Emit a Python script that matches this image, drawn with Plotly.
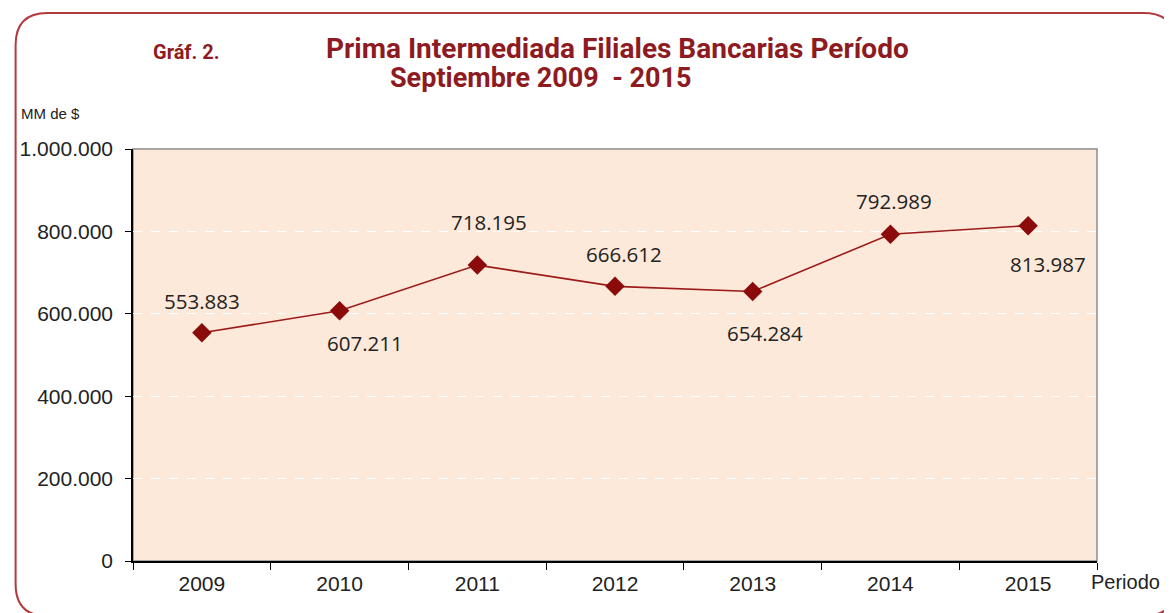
import plotly.graph_objects as go

years = ["2009", "2010", "2011", "2012", "2013", "2014", "2015"]
values = [553883, 607211, 718195, 666612, 654284, 792989, 813987]
value_labels = ["553.883", "607.211", "718.195", "666.612", "654.284", "792.989", "813.987"]
y_ticks = [0, 200000, 400000, 600000, 800000, 1000000]

# label offsets in pixels (x, y-down) relative to the point
label_offsets = [(0, -32), (25, 32), (12, -43), (9, -32), (12, 42), (4, -33), (20, 38)]

OFF = 8  # page body margin
W, H = 1172 - OFF, 613 - OFF
L, R, T, B = 128 - OFF, 1097 - OFF, 149 - OFF, 561 - OFF

RED = "#8E1B22"
LINE = "#9B1B1B"

fig = go.Figure()
fig.add_trace(go.Scatter(
    x=years, y=values, mode="lines+markers",
    line=dict(color=LINE, width=1.6),
    marker=dict(symbol="diamond", size=15, color="#8B0A0A"),
    hoverinfo="x+y", showlegend=False,
))

annotations = []
for i, (v, t, (dx, dy)) in enumerate(zip(values, value_labels, label_offsets)):
    annotations.append(dict(
        x=i, y=v, xref="x", yref="y", text=t, showarrow=False,
        xshift=dx, yshift=-dy, xanchor="center", yanchor="middle",
        font=dict(family="Open Sans", size=20.5, color="#222222"),
    ))

def px2paper(px, py):
    px -= OFF
    py -= OFF
    return ((px - L) / (R - L), (B - py) / (B - T))

# rounded border
x0, y0, x1, y1, r = 10, 13, 1176, 616, 32
pts = [
    ("M", x0 + r, y0), ("L", x1 - r, y0), ("Q", x1, y0, x1, y0 + r),
    ("L", x1, y1 - r), ("Q", x1, y1, x1 - r, y1), ("L", x0 + r, y1),
    ("Q", x0, y1, x0, y1 - r), ("L", x0, y0 + r), ("Q", x0, y0, x0 + r, y0),
]
path = ""
for p in pts:
    cmd = p[0]
    coords = p[1:]
    s = []
    for k in range(0, len(coords), 2):
        a, b = px2paper(coords[k], coords[k + 1])
        s.append(f"{a:.5f},{b:.5f}")
    path += cmd + " ".join(s) + " "
path += "Z"

shapes = [
    dict(type="path", xref="paper", yref="paper", path=path,
         line=dict(color="#B23A3F", width=2), layer="above"),
    dict(type="rect", xref="paper", yref="paper", x0=0, y0=0, x1=1, y1=1,
         line=dict(color="#8C8C8C", width=1.5), layer="below"),
]

def ann_px(px, py, text, size, color, bold=False, family="Liberation Sans", height=None):
    a, b = px2paper(px, py)
    d = dict(x=a, y=b, xref="paper", yref="paper", text=(f"<b>{text}</b>" if bold else text),
             showarrow=False, xanchor="left", yanchor="middle",
             font=dict(family=family, size=size, color=color))
    if height:
        d["height"] = height
    return d

annotations += [
    ann_px(146, 52, "Gráf. 2.", 20, RED, True, "Roboto"),
    ann_px(320, 48, "Prima Intermediada Filiales Bancarias Período", 28, RED, True, "Roboto", 28),
    ann_px(384, 78, "Septiembre 2009&nbsp; - 2015", 27, RED, True, "Roboto", 28),
    ann_px(13, 113, "MM de $", 15, "#222222"),
    ann_px(1089, 582, "Periodo", 20, "#222222"),
]

fig.update_layout(
    width=W, height=H,
    margin=dict(l=L, r=W - R, t=T, b=H - B),
    paper_bgcolor="white",
    plot_bgcolor="#FDE9D9",
    separators=",.",
    font=dict(family="Liberation Sans", size=21, color="#222222"),
    xaxis=dict(
        type="category", range=[-0.5, 6.5], showgrid=False,
        ticks="outside", tickson="boundaries", ticklen=7, tickcolor="black",
        showline=True, linecolor="black", linewidth=1.5,
        tickfont=dict(family="Liberation Sans", size=21, color="#222222"),
        ticklabelstandoff=3,
        fixedrange=True,
    ),
    yaxis=dict(
        range=[0, 1000000], tickvals=y_ticks, tickformat=",d",
        showgrid=True, gridcolor="white", griddash="dash", gridwidth=1,
        ticks="outside", ticklen=6, tickcolor="black",
        showline=True, linecolor="black", linewidth=1.5, zeroline=False,
        tickfont=dict(family="Liberation Sans", size=21, color="#222222"),
        ticklabelstandoff=8,
        fixedrange=True,
    ),
    annotations=annotations,
    shapes=shapes,
)

fig.write_html("out.html")
